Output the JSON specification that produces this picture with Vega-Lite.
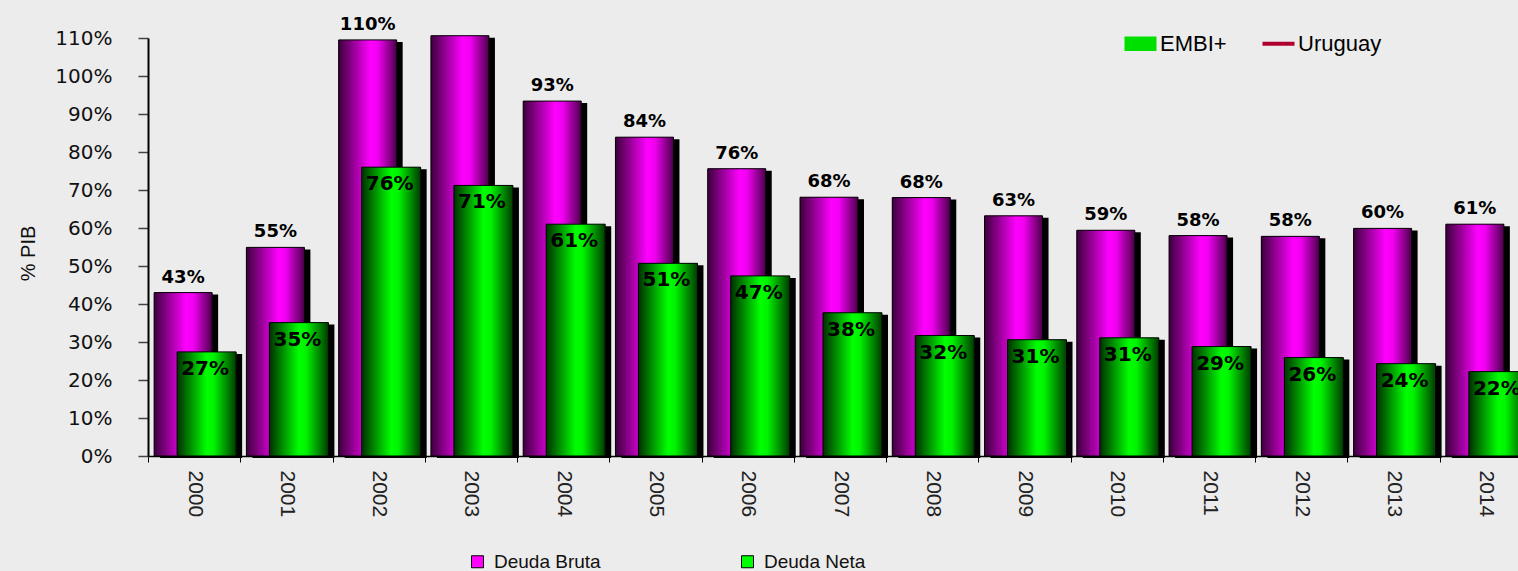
{
  "$schema": "https://vega.github.io/schema/vega-lite/v6.json",
  "autosize": {"type": "none"},
  "padding": {"left": 148, "top": 38, "right": 0, "bottom": 115},
  "width": 1370,
  "height": 418,
  "background": "#ECECEC",
  "config": {
    "view": {"stroke": null},
    "font": "Liberation Sans",
    "axisY": {
      "titleFont": "Liberation Sans",
      "titleFontSize": 20,
      "titleFontWeight": "normal",
      "titleColor": "#111111",
      "labelOverlap": false,
      "labelFont": "DejaVu Sans",
      "labelFontSize": 20,
      "labelColor": "#111111",
      "labelPadding": 26,
      "tickSize": 10,
      "tickColor": "#444444",
      "tickWidth": 1.5,
      "domainColor": "#000000",
      "domainWidth": 2,
      "grid": false
    }
  },
  "data": {
    "values": [
      {"year": "2000", "bruta": 0.430, "neta": 0.274},
      {"year": "2001", "bruta": 0.549, "neta": 0.351},
      {"year": "2002", "bruta": 1.095, "neta": 0.760},
      {"year": "2003", "bruta": 1.106, "neta": 0.712},
      {"year": "2004", "bruta": 0.934, "neta": 0.610},
      {"year": "2005", "bruta": 0.839, "neta": 0.507},
      {"year": "2006", "bruta": 0.756, "neta": 0.474},
      {"year": "2007", "bruta": 0.681, "neta": 0.377},
      {"year": "2008", "bruta": 0.680, "neta": 0.317},
      {"year": "2009", "bruta": 0.632, "neta": 0.306},
      {"year": "2010", "bruta": 0.594, "neta": 0.311},
      {"year": "2011", "bruta": 0.580, "neta": 0.288},
      {"year": "2012", "bruta": 0.578, "neta": 0.259},
      {"year": "2013", "bruta": 0.599, "neta": 0.243},
      {"year": "2014", "bruta": 0.610, "neta": 0.222}
    ]
  },
  "layer": [
    {
      "encoding": {
        "x": {
          "field": "year",
          "type": "nominal",
          "scale": {"range": [0, 1384], "paddingInner": 0, "paddingOuter": 0},
          "axis": {
            "title": null,
            "labelAngle": 90,
            "labelFont": "Liberation Sans",
            "labelFontSize": 21,
            "labelColor": "#222222",
            "labelPadding": 8,
            "tickBand": "extent",
            "tickSize": 6,
            "tickColor": "#000000",
            "domainColor": "#000000",
            "domainWidth": 1.5,
            "grid": false
          }
        }
      },
      "layer": [
        {
          "mark": {"type": "bar", "width": 58, "xOffset": -5, "yOffset": 2, "color": "#000000"},
          "encoding": {
            "y": {
              "field": "bruta",
              "type": "quantitative",
              "scale": {"domain": [0, 1.1], "nice": false, "zero": true},
              "axis": {"title": "% PIB", "titleX": -110, "titleY": 215, "titleAngle": -90, "titleAlign": "center", "titleBaseline": "bottom", "values": [0, 0.1, 0.2, 0.3, 0.4, 0.5, 0.6, 0.7, 0.8, 0.9, 1.0, 1.1], "tickCount": 30, "format": ".0%"}
            }
          }
        },
        {
          "mark": {"type": "bar", "width": 58, "xOffset": -11},
          "encoding": {
            "y": {"field": "bruta", "type": "quantitative",
              "axis": {"title": "% PIB", "titleX": -110, "titleY": 215, "titleAngle": -90, "titleAlign": "center", "titleBaseline": "bottom", "values": [0, 0.1, 0.2, 0.3, 0.4, 0.5, 0.6, 0.7, 0.8, 0.9, 1.0, 1.1], "tickCount": 30, "format": ".0%"}},
            "color": {
              "datum": "Deuda Bruta",
              "scale": {"domain": ["Deuda Bruta", "Deuda Neta"], "range": ["#FF00FF", "#00FF00"]},
              "legend": {
                "title": null,
                "orient": "none",
                "legendX": 320,
                "legendY": 514,
                "direction": "horizontal",
                "padding": 0,
                "symbolType": "square",
                "symbolSize": 144,
                "symbolStrokeColor": "#000000",
                "symbolStrokeWidth": 1,
                "labelFont": "Liberation Sans",
                "labelFontSize": 19,
                "labelColor": "#111111",
                "labelOffset": 7,
                "columnPadding": 137
              }
            }
          }
        },
        {
          "mark": {
            "type": "bar", "width": 58, "xOffset": -11, "stroke": "#000000", "strokeWidth": 1,
            "fill": {"gradient": "linear", "x1": 0, "x2": 1, "y1": 0, "y2": 0,
              "stops": [
                {"offset": 0, "color": "#3C003C"},
                {"offset": 0.55, "color": "#FF00FF"},
                {"offset": 0.68, "color": "#F000F0"},
                {"offset": 1, "color": "#4A004A"}
              ]}
          },
          "encoding": {"y": {"field": "bruta", "type": "quantitative",
            "axis": {"title": "% PIB", "titleX": -110, "titleY": 215, "titleAngle": -90, "titleAlign": "center", "titleBaseline": "bottom", "values": [0, 0.1, 0.2, 0.3, 0.4, 0.5, 0.6, 0.7, 0.8, 0.9, 1.0, 1.1], "tickCount": 30, "format": ".0%"}}}
        },
        {
          "mark": {"type": "bar", "width": 59, "xOffset": 18.5, "yOffset": 2, "color": "#000000"},
          "encoding": {"y": {"field": "neta", "type": "quantitative",
            "axis": {"title": "% PIB", "titleX": -110, "titleY": 215, "titleAngle": -90, "titleAlign": "center", "titleBaseline": "bottom", "values": [0, 0.1, 0.2, 0.3, 0.4, 0.5, 0.6, 0.7, 0.8, 0.9, 1.0, 1.1], "tickCount": 30, "format": ".0%"}}}
        },
        {
          "mark": {"type": "bar", "width": 59, "xOffset": 12.5},
          "encoding": {
            "y": {"field": "neta", "type": "quantitative",
              "axis": {"title": "% PIB", "titleX": -110, "titleY": 215, "titleAngle": -90, "titleAlign": "center", "titleBaseline": "bottom", "values": [0, 0.1, 0.2, 0.3, 0.4, 0.5, 0.6, 0.7, 0.8, 0.9, 1.0, 1.1], "tickCount": 30, "format": ".0%"}},
            "color": {"datum": "Deuda Neta"}
          }
        },
        {
          "mark": {
            "type": "bar", "width": 59, "xOffset": 12.5, "stroke": "#000000", "strokeWidth": 1,
            "fill": {"gradient": "linear", "x1": 0, "x2": 1, "y1": 0, "y2": 0,
              "stops": [
                {"offset": 0, "color": "#003000"},
                {"offset": 0.5, "color": "#00FF00"},
                {"offset": 0.62, "color": "#00F400"},
                {"offset": 1, "color": "#003C00"}
              ]}
          },
          "encoding": {"y": {"field": "neta", "type": "quantitative",
            "axis": {"title": "% PIB", "titleX": -110, "titleY": 215, "titleAngle": -90, "titleAlign": "center", "titleBaseline": "bottom", "values": [0, 0.1, 0.2, 0.3, 0.4, 0.5, 0.6, 0.7, 0.8, 0.9, 1.0, 1.1], "tickCount": 30, "format": ".0%"}}}
        },
        {
          "transform": [{"filter": "datum.year != '2003'"}],
          "mark": {"type": "text", "xOffset": -11, "dy": -10, "baseline": "alphabetic", "font": "DejaVu Sans", "fontWeight": "bold", "fontSize": 18, "color": "#000000"},
          "encoding": {
            "y": {"field": "bruta", "type": "quantitative",
              "axis": {"title": "% PIB", "titleX": -110, "titleY": 215, "titleAngle": -90, "titleAlign": "center", "titleBaseline": "bottom", "values": [0, 0.1, 0.2, 0.3, 0.4, 0.5, 0.6, 0.7, 0.8, 0.9, 1.0, 1.1], "tickCount": 30, "format": ".0%"}},
            "text": {"field": "bruta", "type": "quantitative", "format": ".0%"}
          }
        },
        {
          "mark": {"type": "text", "xOffset": 11, "dy": 23, "baseline": "alphabetic", "font": "DejaVu Sans", "fontWeight": "bold", "fontSize": 20, "color": "#000000"},
          "encoding": {
            "y": {"field": "neta", "type": "quantitative",
              "axis": {"title": "% PIB", "titleX": -110, "titleY": 215, "titleAngle": -90, "titleAlign": "center", "titleBaseline": "bottom", "values": [0, 0.1, 0.2, 0.3, 0.4, 0.5, 0.6, 0.7, 0.8, 0.9, 1.0, 1.1], "tickCount": 30, "format": ".0%"}},
            "text": {"field": "neta", "type": "quantitative", "format": ".0%"}
          }
        }
      ]
    },
    {
      "data": {"values": [{"serie": "EMBI+"}, {"serie": "Uruguay"}]},
      "mark": {"type": "point", "filled": true, "opacity": 0, "size": 1024},
      "encoding": {
        "fill": {
          "field": "serie", "type": "nominal",
          "scale": {"domain": ["EMBI+", "Uruguay"], "range": ["#00E000", "#B00030"]},
          "legend": {"title": null, "orient": "none", "legendX": 976, "legendY": -11, "direction": "horizontal", "padding": 0, "symbolSize": 1024, "symbolOpacity": 1, "symbolStrokeColor": "#2A0A0A", "symbolStrokeWidth": 0.8, "labelFont": "Liberation Sans", "labelFontSize": 22, "labelColor": "#000000", "labelOffset": 3, "columnPadding": 33}
        },
        "shape": {
          "field": "serie", "type": "nominal",
          "scale": {"domain": ["EMBI+", "Uruguay"], "range": ["M-1,-0.45L1,-0.45L1,0.45L-1,0.45Z", "M-1,-0.12L1,-0.12L1,0.12L-1,0.12Z"]},
          "legend": {"title": null, "orient": "none", "legendX": 976, "legendY": -11, "direction": "horizontal", "padding": 0, "symbolSize": 1024, "symbolOpacity": 1, "symbolStrokeColor": "#2A0A0A", "symbolStrokeWidth": 0.8, "labelFont": "Liberation Sans", "labelFontSize": 22, "labelColor": "#000000", "labelOffset": 3, "columnPadding": 33}
        }
      }
    }
  ]
}
